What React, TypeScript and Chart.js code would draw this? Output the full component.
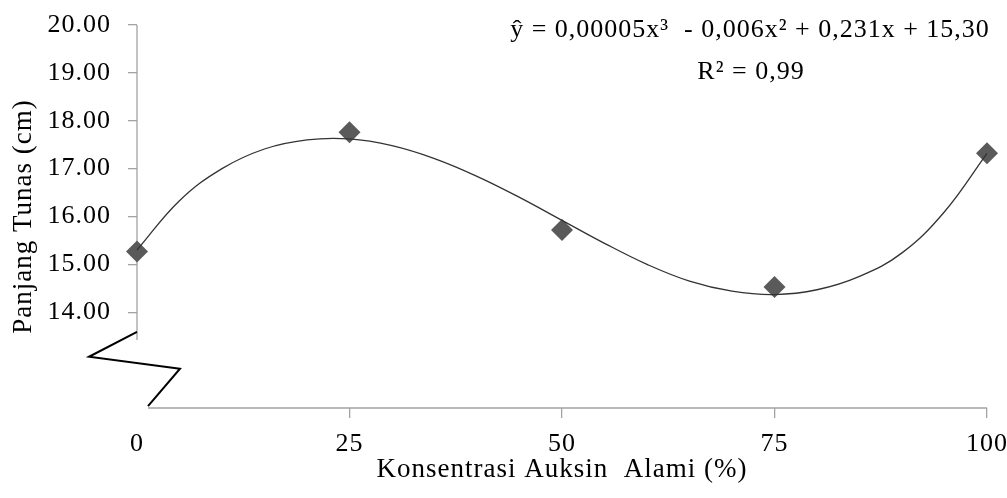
import React, { useEffect, useRef } from 'react';
import { Chart, registerables } from 'chart.js';

Chart.register(...registerables);

// Observed data (Konsentrasi Auksin Alami, %) vs Panjang Tunas (cm)
const concentrations = [0, 25, 50, 75, 100];
const shootLength = [15.27, 17.76, 15.72, 14.53, 17.32];

// Fitted trend curve
const curveX = [0, 5, 10, 15, 20, 25, 30, 35, 40, 45, 50, 55, 60, 65, 70, 75, 80, 85, 90, 95, 100];
const curveY = [15.3, 16.33, 17.0, 17.41, 17.6, 17.62, 17.48, 17.21, 16.84, 16.4, 15.92, 15.44, 15.0, 14.65, 14.44, 14.37, 14.47, 14.75, 15.24, 16.1, 17.32];

const yTickValues = [14, 15, 16, 17, 18, 19, 20];
const xTickValues = [0, 25, 50, 75, 100];

const equationLine1 = 'ŷ = 0,00005x³  - 0,006x² + 0,231x + 15,30';
const equationLine2 = 'R² = 0,99';
const xTitle = 'Konsentrasi Auksin  Alami (%)';
const yTitle = 'Panjang Tunas (cm)';

const FONT = '"Liberation Serif", "Times New Roman", serif';
const AXIS_GRAY = '#a3a3a3';

const spacingPlugin = {
  id: 'spacing',
  beforeUpdate(chart: any) {
    (chart.ctx as any).letterSpacing = '1px';
  },
  beforeDraw(chart: any) {
    (chart.ctx as any).letterSpacing = '1px';
  },
};

const decorPlugin = {
  id: 'decor',
  beforeDatasetsDraw(chart: any) {
    const { ctx, scales, chartArea } = chart;
    const x = scales.x;
    const y = scales.y;
    const x0 = x.getPixelForValue(0);
    ctx.save();
    // axis lines
    ctx.strokeStyle = AXIS_GRAY;
    ctx.lineWidth = 1.3;
    ctx.beginPath();
    ctx.moveTo(x0, y.getPixelForValue(20));
    ctx.lineTo(x0, y.getPixelForValue(13.42));
    ctx.moveTo(x0 + 11, y.getPixelForValue(12));
    ctx.lineTo(x.getPixelForValue(100), y.getPixelForValue(12));
    ctx.stroke();
    // axis break zigzag
    ctx.strokeStyle = '#000';
    ctx.lineWidth = 2;
    ctx.lineJoin = 'miter';
    ctx.beginPath();
    ctx.moveTo(x0, y.getPixelForValue(13.59));
    ctx.lineTo(x0 - 48, y.getPixelForValue(13.07));
    ctx.lineTo(x0 + 43, y.getPixelForValue(12.82));
    ctx.lineTo(x0 + 11, y.getPixelForValue(12.04));
    ctx.stroke();
    // regression equation
    ctx.fillStyle = '#000';
    ctx.font = `26px ${FONT}`;
    (ctx as any).letterSpacing = '1px';
    ctx.textAlign = 'center';
    ctx.textBaseline = 'middle';
    const cx = chartArea.right - 237;
    ctx.fillText(equationLine1, cx, 30);
    ctx.fillText(equationLine2, cx + 1, 72);
    ctx.restore();
  },
};

export default function App() {
  const canvasRef = useRef<HTMLCanvasElement | null>(null);

  useEffect(() => {
    document.body.style.margin = '0';
    const canvas = canvasRef.current;
    if (!canvas) return;

    const chart = new Chart(canvas, {
      type: 'scatter',
      data: {
        datasets: [
          {
            label: 'trend',
            data: curveX.map((v, i) => ({ x: v, y: curveY[i] })),
            showLine: true,
            tension: 0.4,
            borderColor: '#333333',
            borderWidth: 1.3,
            pointRadius: 0,
            fill: false,
            clip: false,
          },
          {
            label: 'data',
            data: concentrations.map((v, i) => ({ x: v, y: shootLength[i] })),
            showLine: false,
            pointStyle: 'rectRot',
            pointRadius: 11,
            pointBackgroundColor: '#5a5a5a',
            pointBorderWidth: 0,
            clip: false,
          },
        ],
      },
      options: {
        animation: false,
        responsive: false,
        events: [],
        layout: { padding: { left: 0, top: 25, right: 20, bottom: 0 } },
        plugins: {
          legend: { display: false },
          tooltip: { enabled: false },
        },
        scales: {
          x: {
            type: 'linear',
            min: 0,
            max: 100,
            afterFit: (s: any) => {
              s.height = 90;
              s.paddingLeft = 0;
              s.paddingRight = 0;
            },
            afterBuildTicks: (s: any) => {
              s.ticks = xTickValues.map((v) => ({ value: v }));
            },
            border: { display: false },
            grid: {
              drawOnChartArea: false,
              drawTicks: true,
              tickLength: 10,
              lineWidth: 1.3,
              color: (c: any) => (c.tick && c.tick.value === 0 ? 'rgba(0,0,0,0)' : AXIS_GRAY),
            },
            ticks: {
              padding: 11,
              color: '#000',
              font: { family: FONT, size: 26 },
              maxRotation: 0,
              callback: (v: any) => String(v),
            },
            title: {
              display: true,
              text: xTitle,
              color: '#000',
              font: { family: FONT, size: 27 },
              padding: { top: 0, bottom: 12 },
            },
          },
          y: {
            type: 'linear',
            min: 12,
            max: 20,
            afterFit: (s: any) => {
              s.width = 137;
              s.paddingTop = 0;
              s.paddingBottom = 0;
            },
            afterBuildTicks: (s: any) => {
              s.ticks = yTickValues.map((v) => ({ value: v }));
            },
            border: { display: false },
            grid: {
              drawOnChartArea: false,
              drawTicks: true,
              tickLength: 9,
              lineWidth: 1.3,
              color: AXIS_GRAY,
            },
            ticks: {
              padding: 17,
              color: '#000',
              font: { family: FONT, size: 26 },
              callback: (v: any) => Number(v).toFixed(2),
            },
            title: {
              display: true,
              text: yTitle,
              color: '#000',
              font: { family: FONT, size: 27 },
              padding: { top: 8, bottom: 0 },
            },
          },
        },
      },
      plugins: [spacingPlugin, decorPlugin],
    });

    return () => chart.destroy();
  }, []);

  return (
    <canvas
      ref={canvasRef}
      width={1007}
      height={498}
      style={{ display: 'block', width: 1007, height: 498 }}
    />
  );
}
